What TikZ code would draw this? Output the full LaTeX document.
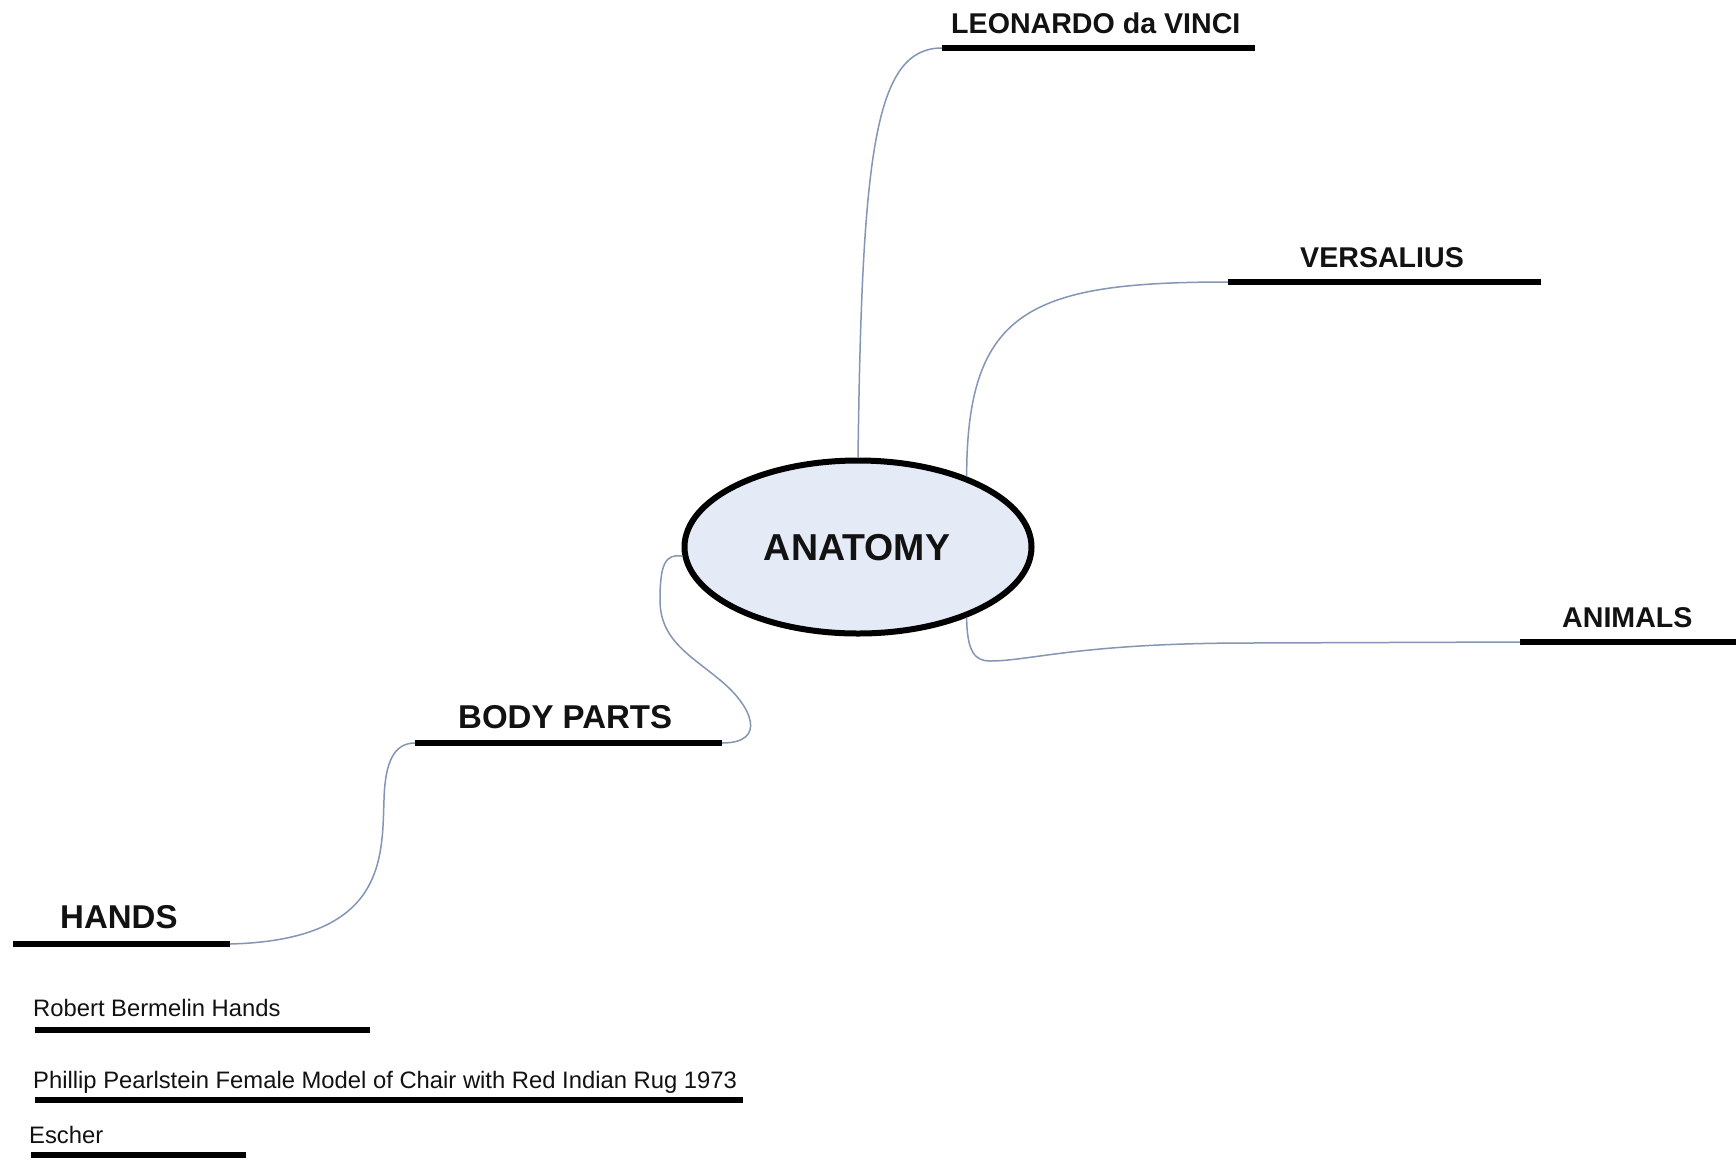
\documentclass[tikz,border=0pt]{standalone}
\usepackage{fontspec}
\setmainfont{Liberation Sans}
\usetikzlibrary{shapes.geometric}
\definecolor{connblue}{RGB}{132,150,180}
\definecolor{ovalfill}{RGB}{229,234,247}
\definecolor{inkblack}{RGB}{18,18,18}
\tikzset{
  topic/.style={font=\fontsize{28.6pt}{31pt}\selectfont\bfseries, anchor=base west, inner sep=0pt, text=inkblack},
  bigtopic/.style={font=\fontsize{33pt}{36pt}\selectfont\bfseries, anchor=base west, inner sep=0pt, text=inkblack},
  subtopic/.style={font=\fontsize{23.8pt}{26pt}\selectfont, anchor=base west, inner sep=0pt, text=inkblack},
  uline/.style={line width=5.5pt, draw=black},
  conn/.style={line width=1.5pt, draw=connblue},
  centraloval/.style={ellipse, draw=black, line width=6pt, fill=ovalfill, minimum width=347pt, minimum height=173pt, inner sep=0pt}
}
\begin{document}
\begin{tikzpicture}[x=1pt,y=-1pt]
\useasboundingbox[fill=white] (0,0) rectangle (1736,1160);

% central node
\node[centraloval] (anat) at (858,547) {};
\node[font=\fontsize{37.5pt}{40pt}\selectfont\bfseries, inner sep=0pt, text=inkblack] (anattext) at (857,548) {ANATOMY};

% underline end points
\coordinate (leoL) at (942,48);   \coordinate (leoR) at (1255,48);
\coordinate (verL) at (1228,282); \coordinate (verR) at (1541,282);
\coordinate (aniL) at (1520,642); \coordinate (aniR) at (1736,642);
\coordinate (bodL) at (415,743);  \coordinate (bodR) at (722,743);
\coordinate (hanL) at (13,944);   \coordinate (hanR) at (230,944);
\coordinate (robL) at (35,1030);  \coordinate (robR) at (370,1030);
\coordinate (phiL) at (35,1100);  \coordinate (phiR) at (743,1100);
\coordinate (escL) at (31,1155);  \coordinate (escR) at (246,1155);

% labels
\node[topic] (leo) at (951,33) {LEONARDO da VINCI};
\node[topic] (ver) at (1300,267) {VERSALIUS};
\node[topic] (ani) at (1562,627) {ANIMALS};
\node[bigtopic] (bod) at (458,728) {BODY PARTS};
\node[bigtopic] (han) at (60,928) {HANDS};
\node[subtopic] (rob) at (33,1016) {Robert Bermelin Hands};
\node[subtopic] (phi) at (33,1088) {Phillip Pearlstein Female Model of Chair with Red Indian Rug 1973};
\node[subtopic] (esc) at (29,1143) {Escher};

% underlines
\foreach \a in {leo,ver,ani,bod,han,rob,phi,esc}{
  \draw[uline] (\a L) -- (\a R);
}

% connectors
\draw[conn] (anat.north) .. controls (862,150) and (875,48) .. (leoL);
\draw[conn] (anat.33) .. controls (967,310) and (1030,282) .. (verL);
\draw[conn] (anat.-33) .. controls (967,652) and (975,661) .. (990,661)
  .. controls (1030,661) and (1080,643) .. (1250,643) -- (aniL);
\draw[conn] (anat.183) .. controls (665,553) and (660,565) .. (660,600)
  .. controls (660,640) and (690,655) .. (720,680)
  .. controls (752,706) and (768,743) .. (bodR);
\draw[conn] (bodL) .. controls (395,743) and (385,760) .. (384,800)
  .. controls (382,860) and (385,940) .. (hanR);
\end{tikzpicture}
\end{document}
